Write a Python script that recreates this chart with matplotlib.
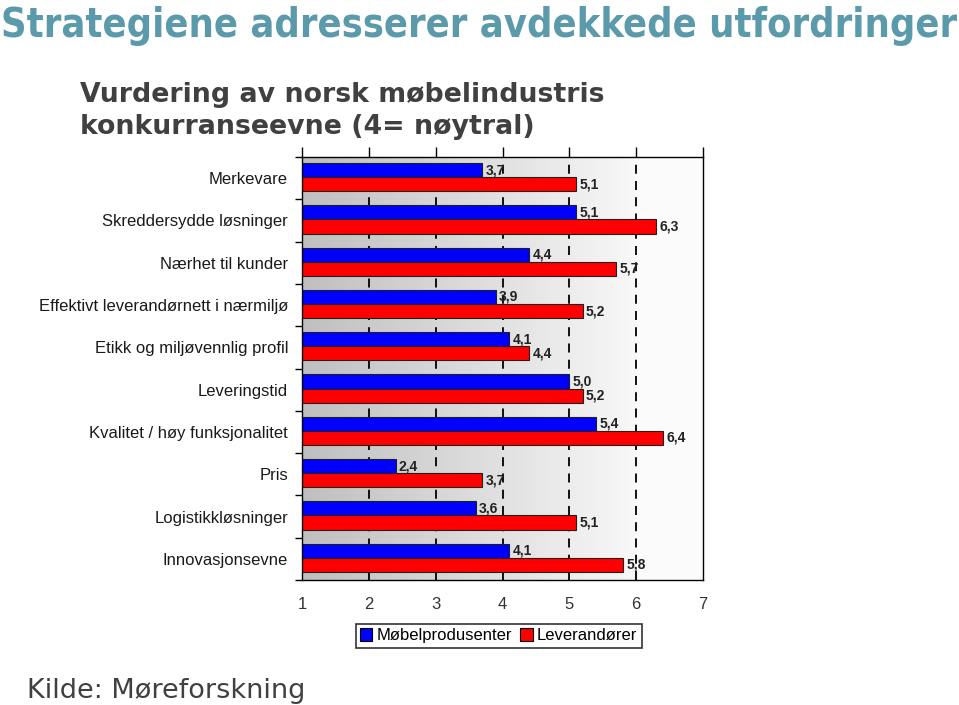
import numpy as np
import matplotlib
matplotlib.use("Agg")
import matplotlib.pyplot as plt
from matplotlib.patches import Patch
from matplotlib.colors import LinearSegmentedColormap

categories = ["Merkevare", "Skreddersydde løsninger", "Nærhet til kunder",
              "Effektivt leverandørnett i nærmiljø", "Etikk og miljøvennlig profil",
              "Leveringstid", "Kvalitet / høy funksjonalitet", "Pris",
              "Logistikkløsninger", "Innovasjonsevne"]
mobel = [3.7, 5.1, 4.4, 3.9, 4.1, 5.0, 5.4, 2.4, 3.6, 4.1]
lever = [5.1, 6.3, 5.7, 5.2, 4.4, 5.2, 6.4, 3.7, 5.1, 5.8]
series_names = ["Møbelprodusenter", "Leverandører"]
xticks = [1, 2, 3, 4, 5, 6, 7]

fig = plt.figure(figsize=(9.59, 7.05), dpi=100)
fig.patch.set_facecolor("white")

title = fig.text(0.001, 0.992, "Strategiene adresserer avdekkede utfordringer",
                 family=["DejaVu Sans"], stretch="condensed", weight="bold",
                 fontsize=29, color="#5b9aab", ha="left", va="top")
fig.text(0.083, 0.884, "Vurdering av norsk møbelindustris\nkonkurranseevne (4= nøytral)",
         family=["DejaVu Sans"], weight="bold", fontsize=19.3, color="#404040",
         ha="left", va="top", linespacing=1.3)
fig.text(0.028, 0.002, "Kilde: Møreforskning", family=["DejaVu Sans"],
         fontsize=19.5, color="#404040", ha="left", va="bottom")

ax = fig.add_axes([302/959, 125/705, 401/959, 423/705])
n = len(categories)
ax.set_xlim(1, 7)
ax.set_ylim(n, 0)

cmap = LinearSegmentedColormap.from_list("g", ["#bfbfbf", "#f8f8f8"])
grad = np.linspace(0, 1, 256).reshape(1, -1)
ax.imshow(grad, cmap=cmap, extent=[1, 6, n, 0], aspect="auto", zorder=0)
ax.axvspan(6, 7, color="#fbfbfb", zorder=0, lw=0)

for xv in xticks[1:-1]:
    ax.axvline(xv, color="black", ls=(0, (5, 4)), lw=1.3, zorder=1)

y = np.arange(n)
h = 0.335
yb = y + 0.14 + h / 2
yr = yb + h
ax.barh(yb, mobel, height=h, color="#0000ff", edgecolor="#202020", lw=0.8, zorder=2)
ax.barh(yr, lever, height=h, color="#ff0000", edgecolor="#202020", lw=0.8, zorder=2)

for yy, v in zip(yb, mobel):
    ax.text(v + 0.05, yy, f"{v:.1f}".replace(".", ","), fontsize=10, weight="bold",
            family=["Liberation Sans"], color="#222222", va="center", ha="left", zorder=3)
for yy, v in zip(yr, lever):
    ax.text(v + 0.05, yy, f"{v:.1f}".replace(".", ","), fontsize=10, weight="bold",
            family=["Liberation Sans"], color="#222222", va="center", ha="left", zorder=3)

ax.set_yticks(np.arange(n + 1))
ax.set_yticklabels([])
ax.set_yticks(y + 0.5, minor=True)
ax.set_yticklabels(categories, minor=True, family=["Liberation Sans"], fontsize=12,
                   color="#1a1a1a")
ax.tick_params(axis="y", which="minor", length=0, pad=10)
ax.tick_params(axis="y", which="major", length=5, direction="out", width=1)

ax.set_xticks(xticks)
ax.set_xticklabels([str(t) for t in xticks], family=["Liberation Sans"], fontsize=12,
                   color="#333333")
ax.tick_params(axis="x", which="major", top=True, bottom=False, labeltop=False,
               labelbottom=True, length=7, direction="out", pad=5, width=1)
for s in ax.spines.values():
    s.set_color("black")
    s.set_linewidth(1)

handles = [Patch(facecolor="#0000ff", edgecolor="black", lw=0.8),
           Patch(facecolor="#ff0000", edgecolor="black", lw=0.8)]
leg = fig.legend(handles, series_names, loc="center", bbox_to_anchor=(0.52, 0.098),
                 ncol=2, frameon=True, fancybox=False, edgecolor="black",
                 prop={"family": "Liberation Sans", "size": 12},
                 handlelength=0.75, handleheight=0.75, handletextpad=0.25,
                 columnspacing=0.5, borderpad=0.25, borderaxespad=0)
leg.get_frame().set_linewidth(1.2)

# fit title width to the reference width
fig.canvas.draw()
bb = title.get_window_extent()
title.set_fontsize(29 * 955.0 / bb.width)

fig.savefig("out.png", dpi=100, facecolor="white")
